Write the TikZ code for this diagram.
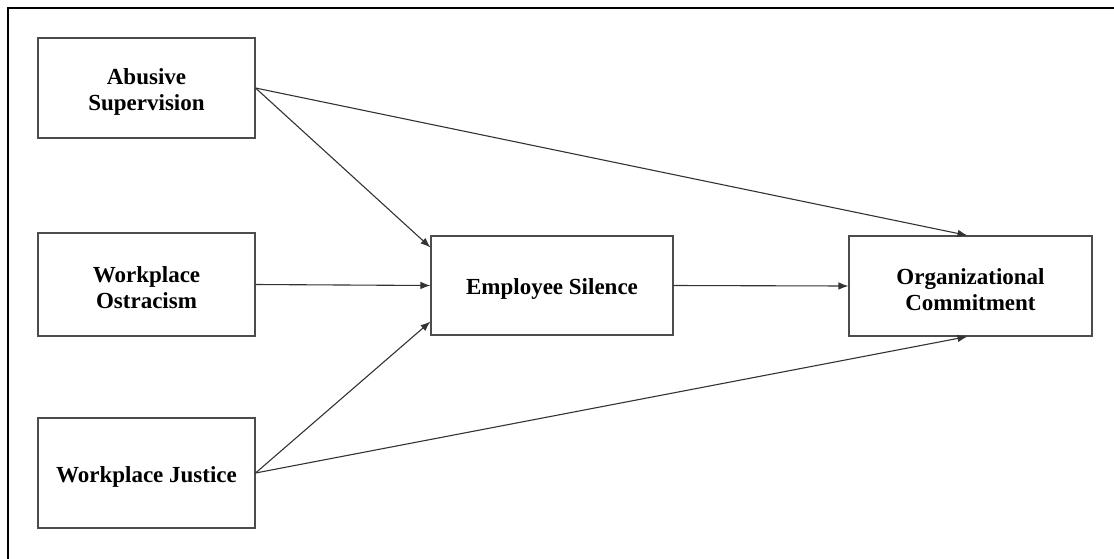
\documentclass[tikz,border=0pt]{standalone}
\usepackage{fontspec}
\setmainfont{Liberation Serif}
\usetikzlibrary{arrows.meta,calc}
\begin{document}
\begin{tikzpicture}[x=1pt,y=-1pt,
  box/.style={draw=black!70,line width=1.1pt,fill=white,inner sep=0pt},
  lbl/.style={inner sep=0pt,align=center,font=\fontsize{23}{26}\selectfont\bfseries},
  link/.style={draw=black!80,line width=1.1pt,-{Latex[length=10pt,width=7.5pt]}}]
\useasboundingbox (0,0) rectangle (1114,558);
% outer frame
\draw[line width=2.6pt] (8,570) -- (8,8) -- (1125,8);
% variable boxes
\node[box,minimum width=217pt,minimum height=100pt] (as) at (146.5,88) {};
\node[box,minimum width=217pt,minimum height=103pt] (wo) at (146.5,284.5) {};
\node[box,minimum width=217pt,minimum height=110pt] (wj) at (146.5,473) {};
\node[box,minimum width=242pt,minimum height=99pt] (es) at (552,285.5) {};
\node[box,minimum width=243pt,minimum height=100pt] (oc) at (970.5,286) {};
% box labels
\node[lbl] (asl) at ([yshift=-3.5pt]as.center) {Abusive\\Supervision};
\node[lbl] (wol) at ([yshift=-3.5pt]wo.center) {Workplace\\Ostracism};
\node[lbl] (wjl) at ([yshift=-3.5pt]wj.center) {Workplace Justice};
\node[lbl] (esl) at ([yshift=-3.5pt]es.center) {Employee Silence};
\node[lbl] (ocl) at ([yshift=-3.5pt]oc.center) {Organizational\\Commitment};
% paths
\draw[link] (as.east) -- ($(es.north west)!0.12!(es.south west)$);
\draw[link] (as.east) -- ($(oc.north)+(-3,0)$);
\draw[link] (wo.east) -- (es.west);
\draw[link] (wj.east) -- ($(es.north west)!0.86!(es.south west)$);
\draw[link] (wj.east) -- ($(oc.south)+(-3,0)$);
\draw[link] (es.east) -- (oc.west);
\end{tikzpicture}
\end{document}
